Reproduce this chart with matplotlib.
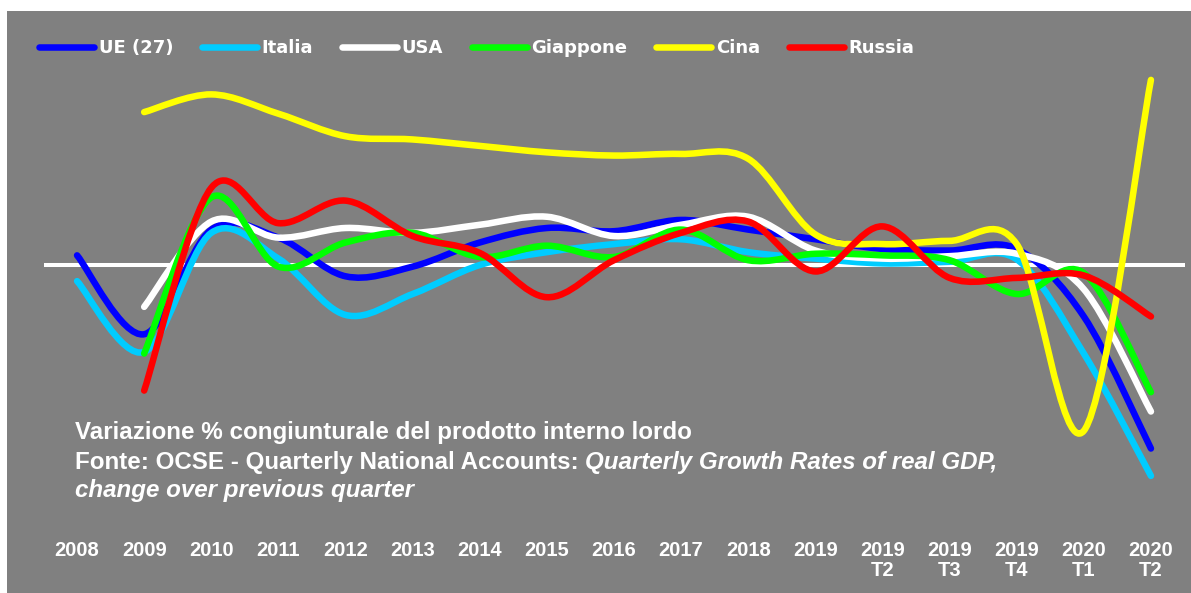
import numpy as np
import matplotlib
matplotlib.use("Agg")
import matplotlib.pyplot as plt
from matplotlib.path import Path
from matplotlib.patches import PathPatch, Rectangle
from matplotlib.lines import Line2D

# Periodi sull'asse x
periodi = ["2008", "2009", "2010", "2011", "2012", "2013", "2014", "2015",
           "2016", "2017", "2018", "2019", "2019\nT2", "2019\nT3", "2019\nT4",
           "2020\nT1", "2020\nT2"]

# Variazioni %
ue = [0.6, -4.3, 2.2, 1.7, -0.7, -0.1, 1.4, 2.3, 2.1, 2.8, 2.2, 1.6, 1.0, 0.9, 1.0, -3.2, -11.4]
italia = [-1.0, -5.4, 2.0, 0.4, -3.1, -1.8, 0.0, 0.8, 1.3, 1.6, 0.8, 0.4, 0.1, 0.2, 0.35, -5.5, -13.1]
usa = [np.nan, -2.6, 2.7, 1.7, 2.3, 2.0, 2.5, 3.0, 1.8, 2.5, 3.0, 0.9, 0.4, 0.55, 0.7, -1.5, -9.1]
giappone = [np.nan, -5.5, 4.2, -0.1, 1.4, 2.0, 0.5, 1.2, 0.5, 2.2, 0.3, 0.7, 0.6, 0.3, -1.8, -0.5, -7.9]
cina = [np.nan, 9.5, 10.6, 9.4, 8.0, 7.8, 7.4, 7.0, 6.8, 6.9, 6.6, 1.9, 1.3, 1.5, 1.3, -10.3, 11.5]
russia = [np.nan, -7.8, 4.8, 2.6, 4.0, 1.8, 0.75, -2.0, 0.3, 2.0, 2.7, -0.4, 2.4, -0.8, -0.8, -0.65, -3.2]

serie = [
    ("UE (27)", ue, "#0000ff"),
    ("Italia", italia, "#00ccff"),
    ("USA", usa, "#ffffff"),
    ("Giappone", giappone, "#00ff00"),
    ("Cina", cina, "#ffff00"),
    ("Russia", russia, "#ff0000"),
]

GRIGIO = "#808080"
ARIAL = ["Liberation Sans", "DejaVu Sans"]


def smooth_path(xs, ys):
    """Bezier path through the points, like Excel's smoothed line."""
    verts = [(xs[0], ys[0])]
    codes = [Path.MOVETO]
    n = len(xs)
    for i in range(n - 1):
        a = max(i - 1, 0)
        b = min(i + 2, n - 1)
        c1 = (xs[i] + (xs[i + 1] - xs[a]) / 6, ys[i] + (ys[i + 1] - ys[a]) / 6)
        c2 = (xs[i + 1] - (xs[b] - xs[i]) / 6, ys[i + 1] - (ys[b] - ys[i]) / 6)
        verts += [c1, c2, (xs[i + 1], ys[i + 1])]
        codes += [Path.CURVE4] * 3
    return Path(verts, codes)


fig = plt.figure(figsize=(11.91, 5.93), dpi=100)
fig.patch.set_facecolor("white")
fig.patches.append(Rectangle((7 / 1191, 0), 1, 1 - 11 / 593, transform=fig.transFigure,
                             facecolor=GRIGIO, edgecolor="none", zorder=-10))

ax = fig.add_axes([43.5 / 1191, 73 / 593, 1141 / 1191, 490 / 593])
ax.set_facecolor("none")
ax.set_xlim(-0.5, len(periodi) - 0.5)
ax.set_ylim(-15.84, 14.6)
for s in ax.spines.values():
    s.set_visible(False)
ax.set_yticks([])
ax.set_xticks(range(len(periodi)))
ax.set_xticklabels(periodi, color="white", fontsize=14.5, fontweight="bold",
                   family=ARIAL, linespacing=1.1)
ax.tick_params(axis="x", length=0, pad=15)

ax.axhline(0, color="white", lw=2.9, zorder=1)

x = np.arange(len(periodi))
handles = []
for k, (nome, valori, colore) in enumerate(serie):
    v = np.array(valori, dtype=float)
    ok = ~np.isnan(v)
    path = smooth_path(x[ok].astype(float), v[ok])
    ax.add_patch(PathPatch(path, fill=False, edgecolor=colore, lw=4.7,
                           capstyle="round", joinstyle="round", zorder=2 + k))
    handles.append(Line2D([], [], color=colore, lw=4.7, solid_capstyle="round", label=nome))

leg = fig.legend(handles=handles, loc="center left", bbox_to_anchor=(39 / 1191, 1 - 48 / 593),
                 ncol=6, frameon=False, borderpad=0, borderaxespad=0,
                 handlelength=3.05, handletextpad=0.25, columnspacing=1.6,
                 prop={"family": "DejaVu Sans", "weight": "bold", "size": 13})
for t in leg.get_texts():
    t.set_color("white")

# Nota e fonte
ty = [1 - 432 / 593, 1 - 462 / 593, 1 - 490 / 593]
tx = 75 / 1191
fs = 17.4
fig.text(tx, ty[0], "Variazione % congiunturale del prodotto interno lordo",
         color="white", fontsize=fs, fontweight="bold", family=ARIAL, va="center")
t1 = fig.text(tx, ty[1], "Fonte: OCSE - Quarterly National Accounts: ",
              color="white", fontsize=fs, fontweight="bold", family=ARIAL, va="center")
fig.canvas.draw()
bb = t1.get_window_extent().transformed(fig.transFigure.inverted())
fig.text(bb.x1, ty[1], "Quarterly Growth Rates of real GDP,",
         color="white", fontsize=fs, fontweight="bold", style="italic", family=ARIAL, va="center")
fig.text(tx, ty[2], "change over previous quarter",
         color="white", fontsize=fs, fontweight="bold", style="italic", family=ARIAL, va="center")

fig.savefig("out.png", dpi=100, facecolor=fig.get_facecolor())
